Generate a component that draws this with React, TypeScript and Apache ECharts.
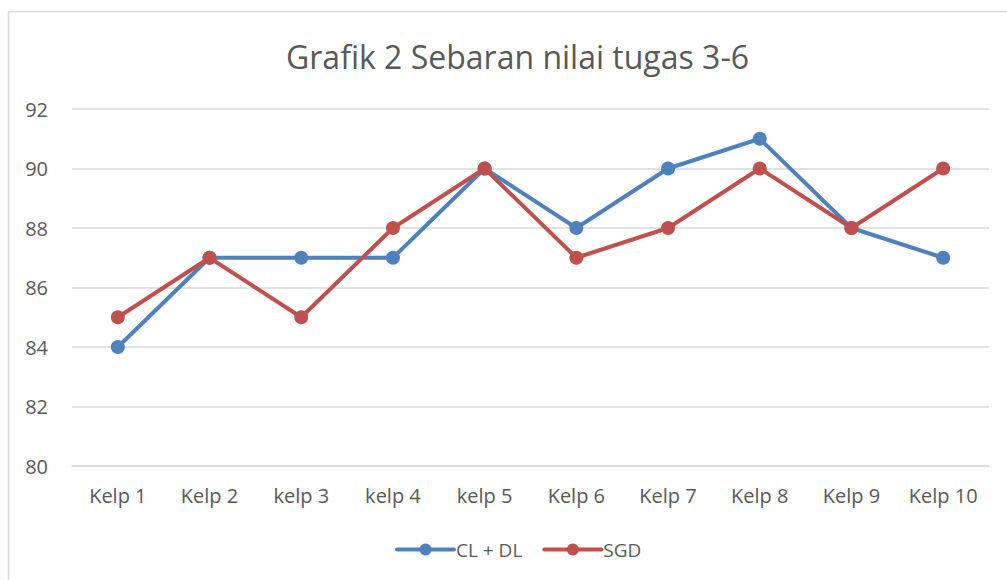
import React, { useEffect, useRef } from "react";
import * as echarts from "echarts";

const categories = ["Kelp 1", "Kelp 2", "kelp 3", "kelp 4", "kelp 5", "Kelp 6", "Kelp 7", "Kelp 8", "Kelp 9", "Kelp 10"];
const clDl = [84, 87, 87, 87, 90, 88, 90, 91, 88, 87];
const sgd = [85, 87, 85, 88, 90, 87, 88, 90, 88, 90];
const yMin = 80;
const yMax = 92;
const yStep = 2;

const FONT = "'Open Sans', 'Noto Sans', sans-serif";

export default function App() {
  const ref = useRef<HTMLDivElement>(null);
  useEffect(() => {
    if (!ref.current) return;
    const chart = echarts.init(ref.current, undefined, { renderer: "svg" });
    chart.setOption({
      animation: false,
      backgroundColor: "#ffffff",
      title: {
        text: "Grafik 2 Sebaran nilai tugas 3-6",
        left: 281,
        top: 35,
        textStyle: { fontFamily: FONT, fontSize: 32, fontWeight: "normal", color: "#595959" },
      },
      graphic: [
        {
          type: "rect",
          shape: { x: 8.5, y: 11.5, width: 1100, height: 700 },
          style: { fill: "none", stroke: "#d9d9d9", lineWidth: 1.5 },
          silent: true,
          z: -10,
        },
      ],
      grid: { left: 72, right: 18, top: 109, bottom: 114 },
      legend: {
        bottom: 16,
        left: 390,
        itemWidth: 57,
        itemHeight: 15,
        itemGap: 20,
        lineStyle: { width: 4, cap: "round" },
        textStyle: { fontFamily: FONT, fontSize: 19, color: "#595959", padding: [0, 0, 0, -3] },
        data: ["CL + DL", "SGD"],
      },
      xAxis: {
        type: "category",
        data: categories,
        boundaryGap: true,
        axisLine: { show: true, lineStyle: { color: "#d9d9d9", width: 1.5 } },
        axisTick: { show: false },
        axisLabel: { fontFamily: FONT, fontSize: 20, color: "#595959", margin: 19, interval: 0 },
      },
      yAxis: {
        type: "value",
        min: yMin,
        max: yMax,
        interval: yStep,
        axisLine: { show: false },
        axisTick: { show: false },
        axisLabel: { fontFamily: FONT, fontSize: 20, color: "#595959", margin: 24 },
        splitLine: { lineStyle: { color: "#d9d9d9", width: 1.5 } },
      },
      series: [
        {
          name: "CL + DL",
          type: "line",
          data: clDl,
          symbol: "circle",
          symbolSize: 14,
          lineStyle: { color: "#4F81BD", width: 4, cap: "round" },
          itemStyle: { color: "#4F81BD" },
        },
        {
          name: "SGD",
          type: "line",
          data: sgd,
          symbol: "circle",
          symbolSize: 14,
          lineStyle: { color: "#C0504D", width: 4, cap: "round" },
          itemStyle: { color: "#C0504D" },
        },
      ],
    });
    return () => chart.dispose();
  }, []);
  return (
    <div
      ref={ref}
      style={{ position: "fixed", left: 0, top: 0, width: 1007, height: 580, background: "#fff" }}
    />
  );
}
